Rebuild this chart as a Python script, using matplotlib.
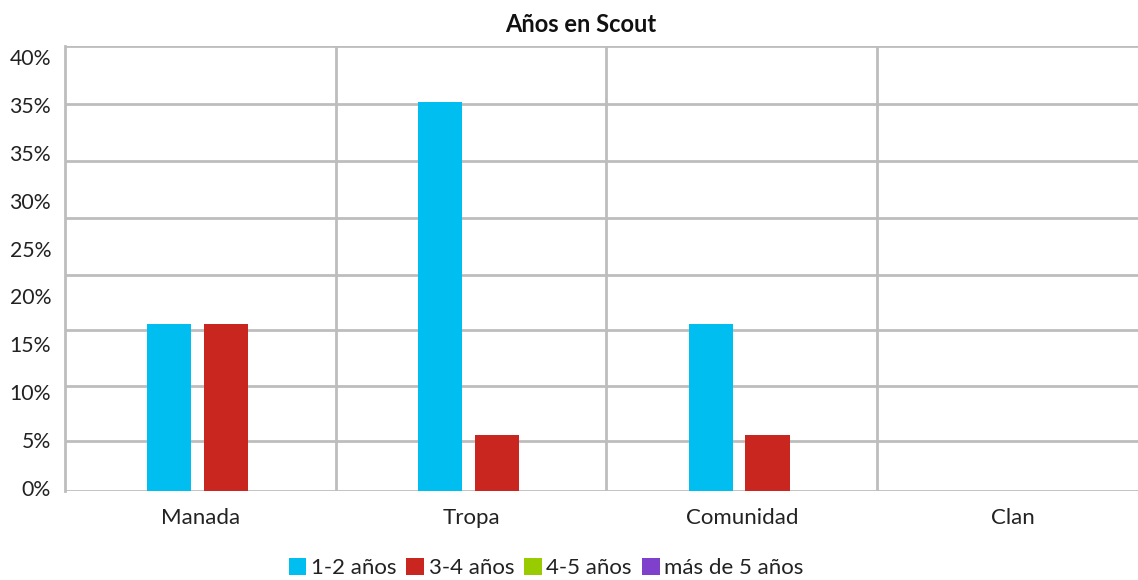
import matplotlib
matplotlib.use("Agg")
import matplotlib.pyplot as plt
import numpy as np

plt.rcParams['font.family'] = ['Lato', 'DejaVu Sans']

categories = ["Manada", "Tropa", "Comunidad", "Clan"]
series_names = ["1-2 años", "3-4 años", "4-5 años", "más de 5 años"]
s_12 = [15, 35, 15, 0]
s_34 = [15, 5, 5, 0]
s_45 = [0, 0, 0, 0]
s_5p = [0, 0, 0, 0]
colors = ["#00BFF0", "#C92620", "#99CC00", "#7F40CC"]

# y-axis tick labels as they appear in the original (evenly spaced labels)
ytick_labels = ["0%", "5%", "10%", "15%", "20%", "25%", "30%", "35%", "35%", "40%"]
# horizontal grid line values
grid_vals = [0, 4.5, 9.45, 14.5, 19.4, 24.55, 29.65, 34.8, 40]

W, H = 1138, 580
fig = plt.figure(figsize=(W / 100, H / 100), dpi=100)
left_px, right_px = 65, 65 + 4 * 270.7
bot_px, top_px = 491, 46
ax = fig.add_axes([left_px / W, 1 - bot_px / H, (right_px - left_px) / W, (bot_px - top_px) / H])

x = np.arange(len(categories))
bw = 0.163
offsets = [-0.115, 0.095, -0.115, 0.095]
all_series = [s_12, s_34, s_45, s_5p]
handles = []
for vals, off, c, name in zip(all_series, offsets, colors, series_names):
    b = ax.bar(x + off, vals, width=bw, color=c, label=name, zorder=3)
    handles.append(b)

gc = "#BDBDBD"
for g in grid_vals:
    ax.axhline(g, color=gc, lw=2, zorder=1)
for v in [0.5, 1.5, 2.5]:
    ax.axvline(v, color=gc, lw=2, zorder=1)

ax.set_xlim(-0.5, 3.5)
ax.set_ylim(0, 40)
for s in ["top", "right", "bottom"]:
    ax.spines[s].set_visible(False)
ax.spines["left"].set_color(gc)
ax.spines["left"].set_linewidth(2)

ax.set_xticks(x)
ax.set_xticklabels(categories, fontsize=16, color="#222222")
ax.tick_params(axis="x", length=0, pad=12)
ypos = np.linspace(0.27, 39.0, len(ytick_labels))
ax.set_yticks(ypos)
ax.set_yticklabels(ytick_labels, fontsize=15.3, color="#222222")
ax.tick_params(axis="y", length=0, pad=10)

fig.text(581 / W, 1 - 24 / H, "Años en Scout", ha="center", va="center",
         fontsize=17, fontweight="bold", color="#111111")

fig.legend(handles=handles, labels=series_names, loc="center",
           bbox_to_anchor=(546 / W, 1 - 568 / H), ncol=4, frameon=False,
           fontsize=16, handlelength=0.8, handleheight=0.85, handletextpad=0.2,
           columnspacing=0.45, labelcolor="#222222", borderpad=0.2)

fig.savefig("out.png", dpi=100)
